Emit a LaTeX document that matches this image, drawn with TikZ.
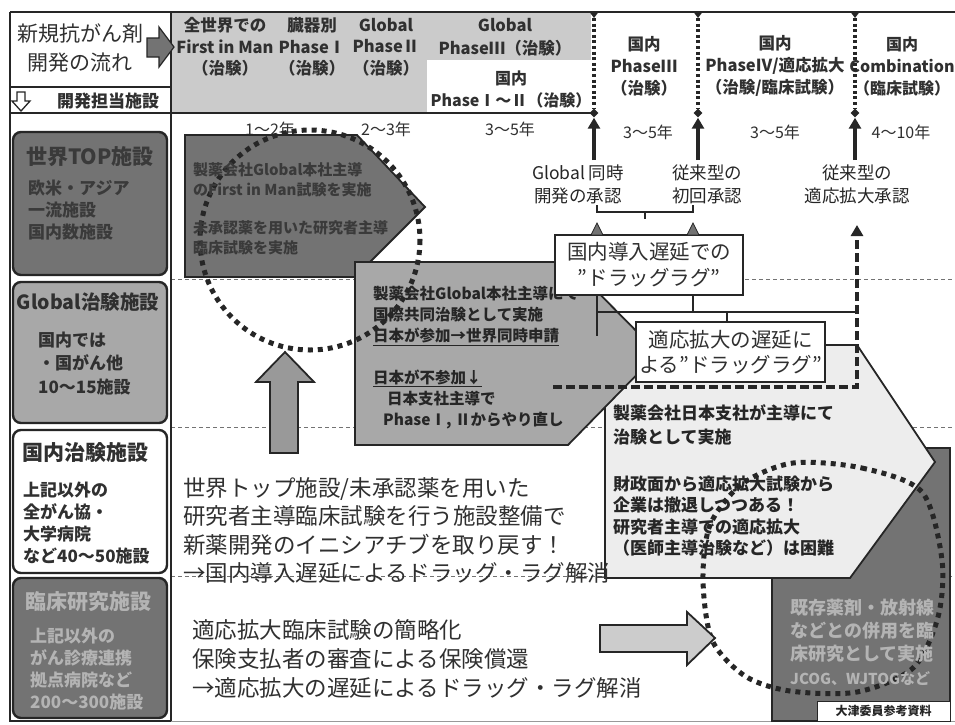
\documentclass[tikz,border=0pt]{standalone}
\usepackage{fontspec}
\setmainfont{Noto Sans CJK JP}
\usetikzlibrary{arrows.meta,shapes.geometric}
\definecolor{dk}{HTML}{737373}
\definecolor{md}{HTML}{A8A8A8}
\definecolor{lt}{HTML}{CBCBCB}
\definecolor{pl}{HTML}{EDEDED}
\definecolor{ink}{HTML}{262626}
\definecolor{txt}{HTML}{303030}
\definecolor{dtxt}{HTML}{3A3A3A}
\definecolor{ltxt}{HTML}{B4B4B4}
\newcommand\fs[2]{\fontsize{#1}{#2}\selectfont}
\begin{document}
\begin{tikzpicture}[x=1pt,y=-1pt,
  frame/.style={draw=ink,line width=1.3pt},
  shp/.style={draw=ink,line width=1.8pt,line join=miter},
  lbox/.style={draw=ink,line width=2.4pt,rounded corners=8pt},
  wbox/.style={draw=ink,line width=1.6pt,fill=white,inner sep=0pt,align=center,text=txt},
  tl/.style={inner sep=0pt,align=left,anchor=west,text=txt},
  tc/.style={inner sep=0pt,align=center,text=txt},
  rowsep/.style={draw=black!55,line width=0.8pt,dash pattern=on 4pt off 3pt},
  dotc/.style={draw=ink,line width=5pt,dash pattern=on 5pt off 5pt},
  vdot/.style={draw=ink,line width=3.2pt,dash pattern=on 3pt off 2.6pt},
  uparr/.style={draw=ink,line width=3.6pt,-{Triangle[length=11pt,width=12pt]}},
  dasharr/.style={draw=ink,line width=3.4pt,dash pattern=on 9pt off 4pt,-{Triangle[length=11pt,width=12pt]}},
  dia/.style={diamond,fill=ink,inner sep=0pt,minimum size=9pt},
  brk/.style={draw=ink,line width=1.6pt},
  blk/.style={draw=ink,line width=1.8pt,line join=miter},
]
\useasboundingbox (0,0) rectangle (955,724);
\fill[white] (0,0) rectangle (955,724);

% header fills
\fill[lt] (172,13) rectangle (427,112);
\fill[lt] (427,13) rectangle (591,60);

% row separators
\draw[rowsep] (171,279) -- (955,279);
\draw[rowsep] (171,427) -- (955,427);
\draw[rowsep] (171,576) -- (955,576);

% frame
\draw[frame] (10,12) -- (955,12);
\draw[frame] (10,12) -- (10,721) -- (171,721);
\draw[frame] (171,12) -- (171,721);
\draw[draw=black!40,line width=0.8pt] (171,721) -- (955,721);
\draw[frame] (10,87) -- (171,87);
\draw[frame] (10,113) -- (594,113);

% top-left cell
\node[tc,font=\fs{21}{29}] (flow) at (80,48) {新規抗がん剤\\開発の流れ};
\draw[blk,fill=dk,line width=1.2pt] (147,38)--(159,38)--(159,27)--(174,47)--(159,67)--(159,57)--(147,57)--cycle;
\draw[fill=white,draw=ink,line width=1.3pt] (17,92)--(25,92)--(25,101)--(30,101)--(21,111)--(12,101)--(17,101)--cycle;
\node[tc,font=\bfseries\fs{17}{20}] (dept) at (108,101) {開発担当施設};

% header columns
\node[tc,font=\bfseries\fs{16.5}{21.5}] (h1) at (225,47) {全世界での\\First in Man\\（治験）};
\node[tc,font=\bfseries\fs{16.5}{21.5}] (h2) at (312,47) {臓器別\\PhaseⅠ\\（治験）};
\node[tc,font=\bfseries\fs{16.5}{21.5}] (h3) at (386,47) {Global\\PhaseⅡ\\（治験）};
\node[tc,font=\bfseries\fs{16.5}{23}] (h4) at (505,37) {Global\\PhaseⅢ（治験）};
\node[tc,font=\bfseries\fs{16}{22}] (h5) at (511,89) {国内\\PhaseⅠ～Ⅱ（治験）};
\node[tc,font=\bfseries\fs{16.5}{22}] (h6) at (644,66) {国内\\PhaseⅢ\\（治験）};
\node[tc,font=\bfseries\fs{16.5}{22}] (h7) at (775,66) {国内\\PhaseⅣ/適応拡大\\（治験/臨床試験）};
\node[tc,font=\bfseries\fs{16}{22}] (h8) at (902,66) {国内\\Combination\\（臨床試験）};

% dotted phase boundaries
\foreach \x/\n in {594/a,698/b,855/c}{
  \draw[vdot] (\x,18) -- (\x,108);
  \fill[ink] (\x-4.5,12) -- (\x+4.5,12) -- (\x,18) -- cycle;
  \node[dia] (d\n) at (\x,113) {};
}

% year labels
\node[tc,font=\fs{16}{18}] (y1) at (270,129) {1～2年};
\node[tc,font=\fs{16}{18}] (y2) at (386,129) {2～3年};
\node[tc,font=\fs{16}{18}] (y3) at (510,129) {3～5年};
\node[tc,font=\fs{16}{18}] (y4) at (648,132) {3～5年};
\node[tc,font=\fs{16}{18}] (y5) at (775,132) {3～5年};
\node[tc,font=\fs{16}{18}] (y6) at (901,132) {4～10年};

% approvals
\node[tc,font=\fs{17.5}{23},text=ink] (ap1) at (578,184) {Global 同時\\開発の承認};
\node[tc,font=\fs{17.5}{23},text=ink] (ap2) at (707,184) {従来型の\\初回承認};
\node[tc,font=\fs{17.5}{23},text=ink] (ap3) at (857,184) {従来型の\\適応拡大承認};
\draw[uparr] ([yshift=4pt]da |- ap1.north) -- (da.south);
\draw[uparr] ([yshift=4pt]db |- ap2.north) -- (db.south);
\draw[uparr] ([yshift=4pt]dc |- ap3.north) -- (dc.south);

% shape 1
\draw[shp,fill=dk] (185,135) -- (357,135) -- (425,207) -- (355,277) -- (185,277) -- cycle;
% shape 4
\draw[shp,fill=dk] (772,448) -- (950,448) -- (950,721) -- (772,721) -- cycle;
% shape 3
\draw[shp,fill=pl] (605,345) -- (857,345) -- (935,462) -- (850,578) -- (605,578) -- cycle;
% shape 2
\draw[shp,fill=md] (355,262) -- (568,262) -- (658,353) -- (568,445) -- (355,445) -- cycle;

% dotted circles
\draw[dotc] (310,240) circle (110);
\draw[dotc] plot[smooth cycle] coordinates {(793,463) (862,468) (922,492) (942,560) (938,617) (913,668) (857,692) (790,691) (745,676) (712,640) (703,580) (710,525) (742,484)};

% block arrows
\draw[blk,fill=black!40] (285,352) -- (314,382) -- (298,382) -- (298,453) -- (270,453) -- (270,382) -- (256,382) -- cycle;
\draw[blk,fill=black!20] (600,625) -- (687,625) -- (687,612) -- (715,638) -- (687,665) -- (687,652) -- (600,652) -- cycle;

% shape texts
\node[tl,font=\bfseries\fs{15}{20},text=dtxt] (s1a) at (193,180) {製薬会社Global本社主導\\のFirst in Man試験を実施};
\node[tl,font=\bfseries\fs{15}{20},text=dtxt] (s1b) at (193,238) {未承認薬を用いた研究者主導\\臨床試験を実施};
\node[tl,font=\bfseries\fs{15.5}{21},text=ink] (s2a) at (373,316) {製薬会社Global本社主導にて\\国際共同治験として実施\\\underline{日本が参加→世界同時申請}};
\node[tl,font=\bfseries\fs{15.5}{21},text=ink] (s2b) at (373,399) {\underline{日本が不参加↓}\\\hspace*{14pt}日本支社主導で\\\hspace*{10pt}PhaseⅠ, Ⅱからやり直し};
\node[tl,font=\bfseries\fs{17}{24},text=ink] (s3a) at (613,425) {製薬会社日本支社が主導にて\\治験として実施};
\node[tl,font=\bfseries\fs{17}{21.3},text=ink] (s3b) at (613,516) {財政面から適応拡大試験から\\企業は撤退しつつある！\\研究者主導での適応拡大\\（医師主導治験など）は困難};
\node[tl,font=\bfseries\fs{18}{23.3},text=ltxt] (s4) at (790,642) {既存薬剤・放射線\\などとの併用を臨\\床研究として実施\\{\fs{15}{23.3}JCOG、WJTOGなど}};

% drug-lag boxes and connectors
\draw[brk] (597,205) -- (597,212) -- (693,212) -- (693,205);
\draw[brk] (645,212) -- (645,219);
\node[wbox,minimum width=188pt,minimum height=60pt,font=\fs{20.5}{26}] (lag1) at (649,265) {国内導入遅延での\\”ドラッグラグ”};
\fill[dk,draw=ink,line width=0.8pt] (591,235) -- (597,223) -- (603,235) -- cycle;
\fill[dk,draw=ink,line width=0.8pt] (687,235) -- (693,223) -- (699,235) -- cycle;
\draw[brk] (693,295) -- (693,312);
\draw[brk] (597,295) -- (597,336);
\draw[brk] (597,312) -- (857,312);
\node[wbox,minimum width=189pt,minimum height=60pt,font=\fs{20.5}{25}] (lag2) at (730.5,352) {適応拡大の遅延に\\よる”ドラッグラグ”};
\draw[brk] (727,312) -- (727,322);
\draw[dasharr] (553,387) -- (857,387) -- (857,225);

% main texts
\node[tl,font=\fs{22.5}{28.5}] (m1) at (183,530.5) {世界トップ施設/未承認薬を用いた\\研究者主導臨床試験を行う施設整備で\\新薬開発のイニシアチブを取り戻す！\\→国内導入遅延によるドラッグ・ラグ解消};
\node[tl,font=\fs{22.5}{29}] (m2) at (192,659) {適応拡大臨床試験の簡略化\\保険支払者の審査による保険償還\\→適応拡大の遅延によるドラッグ・ラグ解消};

% left column boxes
\draw[lbox,fill=dk] (13,132) rectangle (167,275);
\draw[lbox,fill=md] (13,282) rectangle (167,423);
\draw[lbox,fill=white] (13,430) rectangle (167,573);
\draw[lbox,fill=dk] (13,578) rectangle (167,718);
\node[tc,font=\bfseries\fs{21}{24},text=dtxt] (tA) at (90,157) {世界TOP施設};
\node[tl,font=\bfseries\fs{17}{22},text=dtxt] (tA2) at (28,210) {欧米・アジア\\一流施設\\国内数施設};
\node[tc,font=\bfseries\fs{19.5}{22}] (tB) at (88,302) {Global治験施設};
\node[tl,font=\bfseries\fs{17}{23.5}] (tB2) at (38,363.5) {国内では\\・国がん他\\10～15施設};
\node[tc,font=\bfseries\fs{21}{24}] (tC) at (85,453) {国内治験施設};
\node[tl,font=\bfseries\fs{17}{22}] (tC2) at (23,523) {上記以外の\\全がん協・\\大学病院\\など40～50施設};
\node[tc,font=\bfseries\fs{21}{24},text=ltxt] (tD) at (88,602) {臨床研究施設};
\node[tl,font=\bfseries\fs{17}{22},text=ltxt] (tD2) at (30,669.5) {上記以外の\\がん診療連携\\拠点病院など\\200～300施設};

% source label
\node[draw=ink,fill=white,line width=1pt,minimum width=133pt,minimum height=20pt,inner sep=0pt,font=\bfseries\fs{12}{14},text=ink] (src) at (883.5,711) {大津委員参考資料};
\end{tikzpicture}
\end{document}
